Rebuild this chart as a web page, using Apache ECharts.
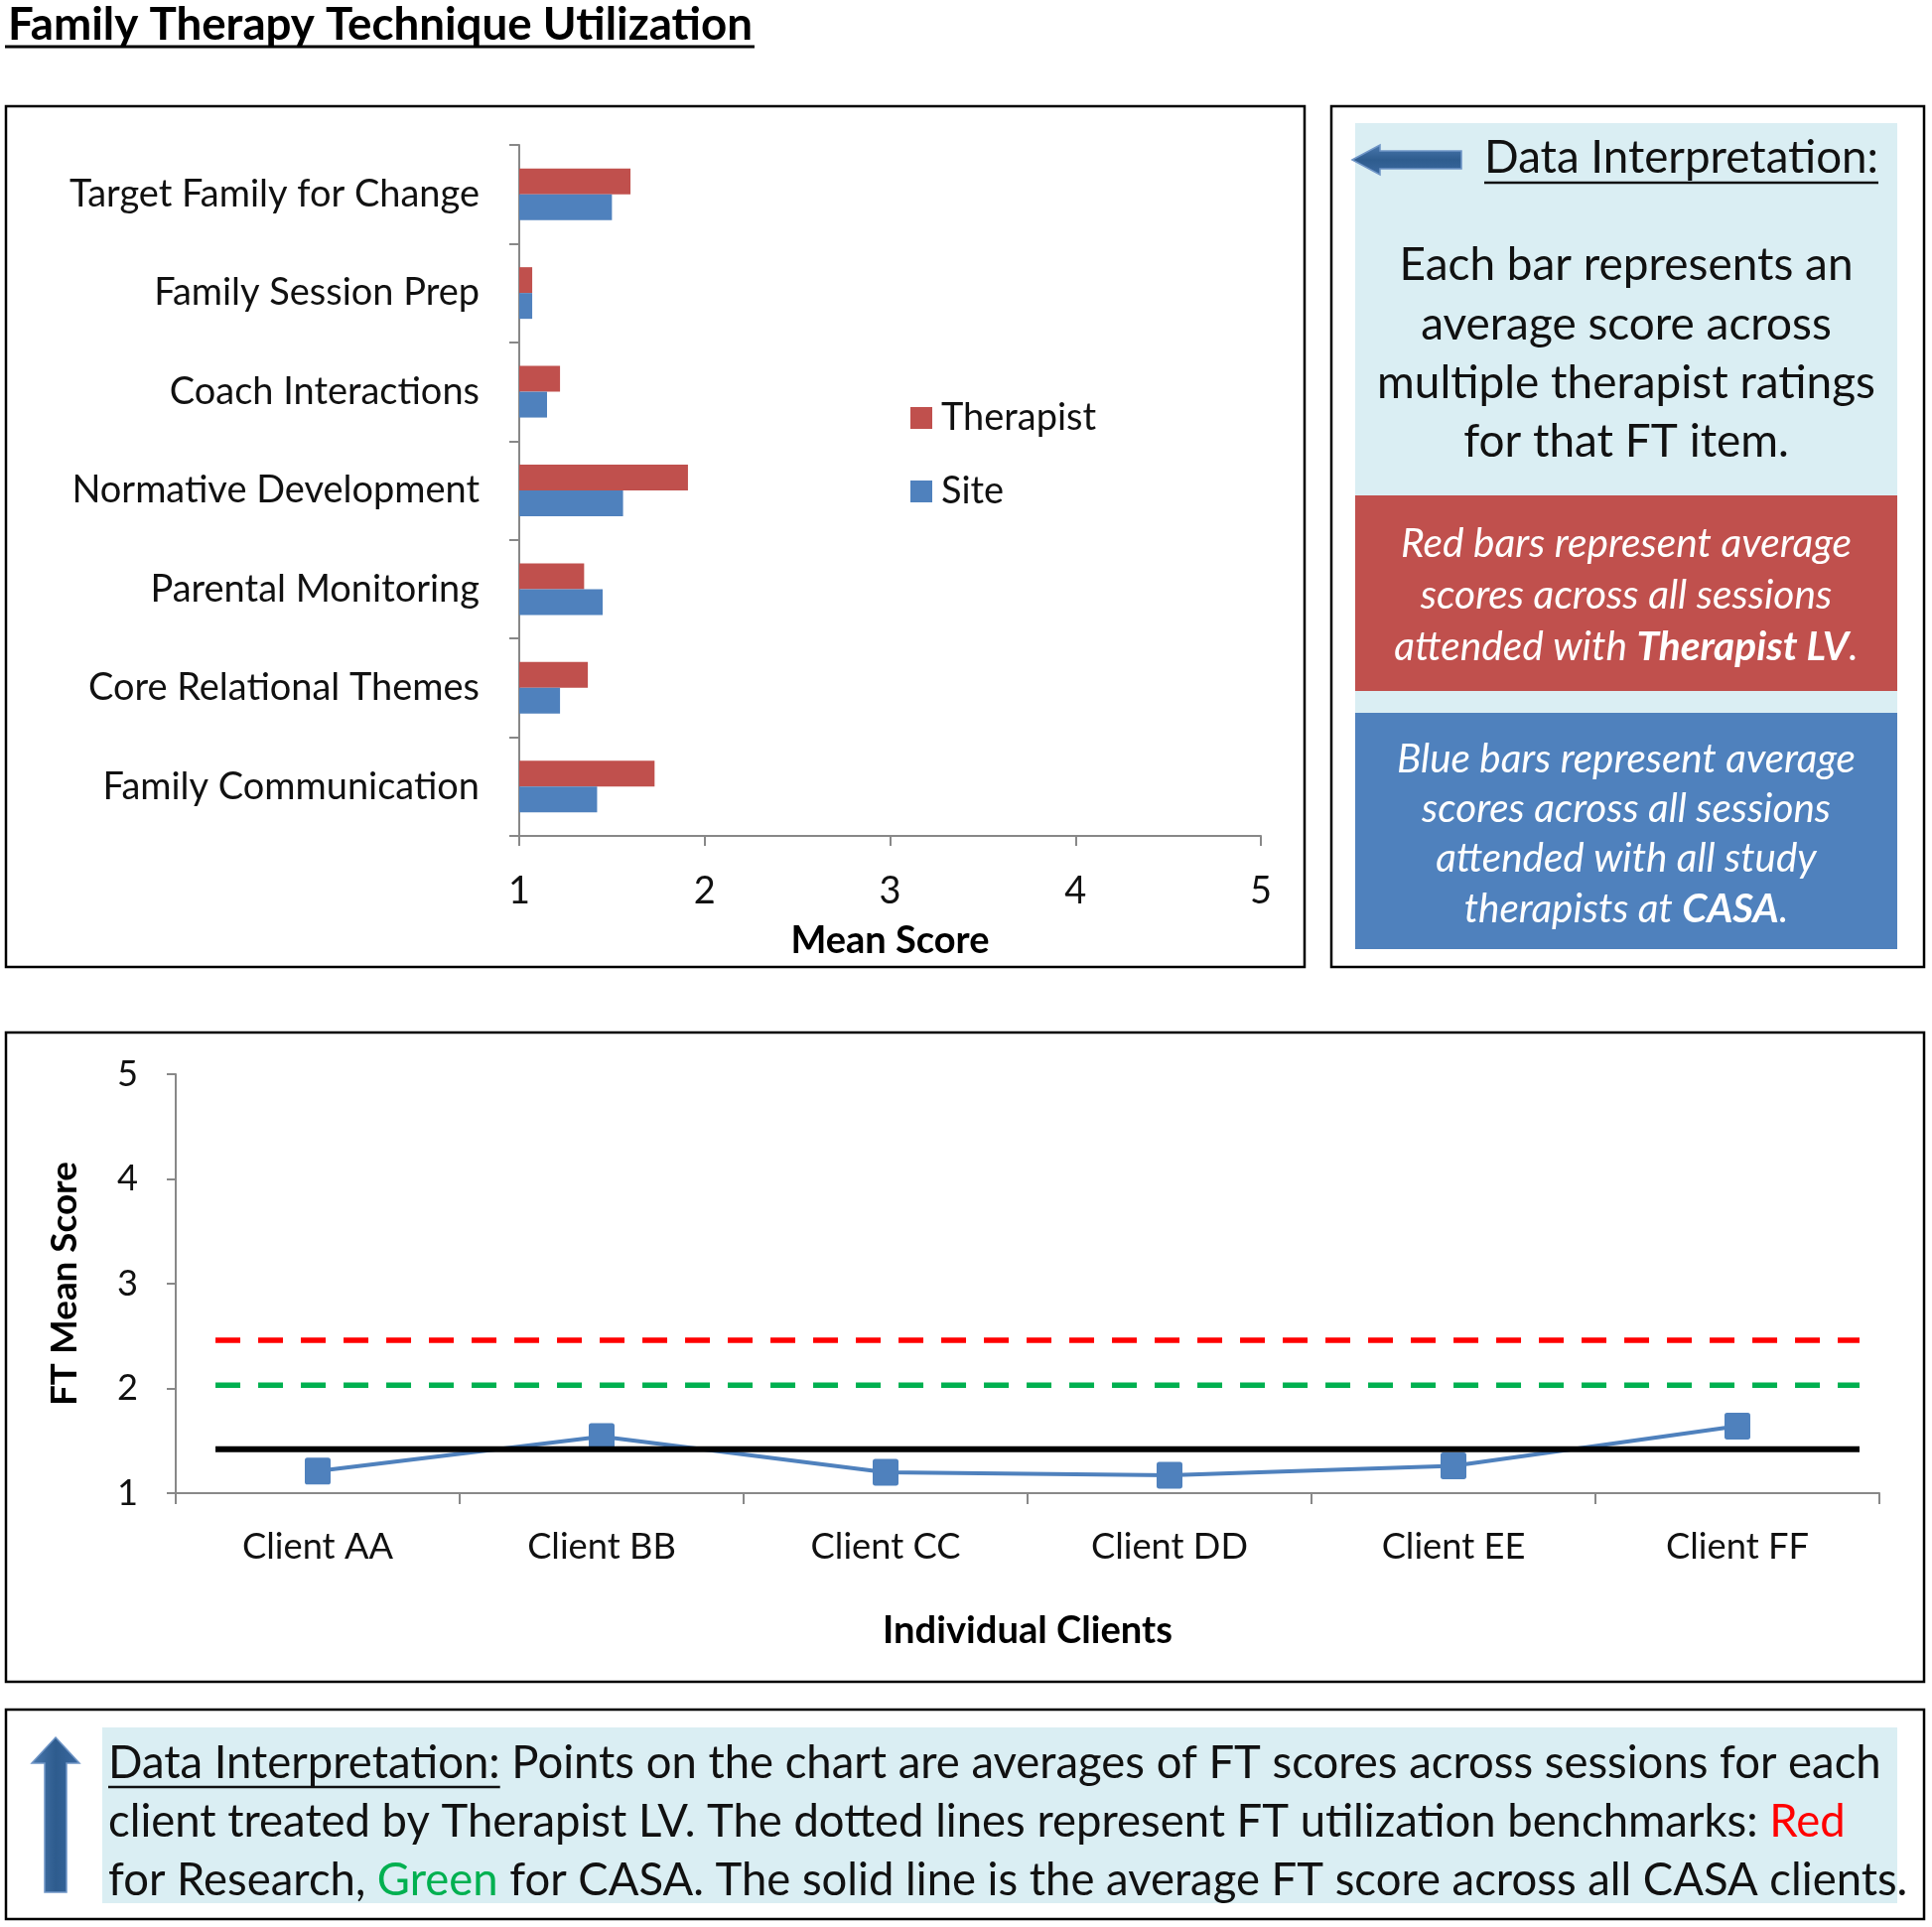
<!DOCTYPE html>
<html><head><meta charset="utf-8">
<script src="https://cdn.jsdelivr.net/npm/echarts@6/dist/echarts.min.js"></script>
<style>html,body{margin:0;padding:0;background:#fff}#main{width:1946px;height:1941px}</style>
</head><body><div id="main"></div>
<script>
// ---------- DATA ----------
const techniqueCategories = ['Target Family for Change','Family Session Prep','Coach Interactions','Normative Development','Parental Monitoring','Core Relational Themes','Family Communication'];
const therapistScores = [1.60, 1.07, 1.22, 1.91, 1.35, 1.37, 1.73];
const siteScores      = [1.50, 1.07, 1.15, 1.56, 1.45, 1.22, 1.42];
const seriesNames = ['Therapist', 'Site'];
const clientCategories = ['Client AA','Client BB','Client CC','Client DD','Client EE','Client FF'];
const clientScores = [1.21, 1.54, 1.20, 1.17, 1.26, 1.64];
const benchmarkNames = ['Research benchmark', 'CASA benchmark', 'CASA average'];
const benchmarkValues = [2.46, 2.03, 1.42];
const scoreTicks = [1, 2, 3, 4, 5];

// ---------- FONT HELPERS ----------
const FONT = 'Lato';
const ctx = document.createElement('canvas').getContext('2d');
function fnt(size, weight, style){ return (style||'normal') + ' ' + (weight||'normal') + ' ' + size + 'px ' + FONT; }
function tw(s, size, weight, style){ ctx.font = fnt(size, weight, style); return ctx.measureText(s).width; }
function fit(s, target, weight, style){ return +(target / tw(s, 100, weight, style) * 100).toFixed(2); }
function midOffset(size, weight, style){
  ctx.font = fnt(size, weight, style);
  ctx.textBaseline = 'alphabetic';
  const a = ctx.measureText('H').actualBoundingBoxAscent;
  ctx.textBaseline = 'middle';
  const m = ctx.measureText('H').actualBoundingBoxAscent;
  ctx.textBaseline = 'alphabetic';
  return a - m;
}
function T(text, x, baseline, size, o){
  o = o || {};
  const weight = o.weight || 'normal', style = o.style || 'normal';
  return { type:'text', x:x, y: baseline - midOffset(size, weight, style), z: 10,
    style:{ text:text, fontFamily:FONT, fontSize:size, fontWeight:weight, fontStyle:style,
      fill:o.fill||'#111', align:o.align||'left', textAlign:o.align||'left',
      verticalAlign:'middle', textVerticalAlign:'middle', rich:o.rich } };
}
function L(x1, y1, x2, y2, w, c){ return { type:'line', z:10, shape:{x1:x1,y1:y1,x2:x2,y2:y2}, style:{stroke:c||'#111', lineWidth:w} }; }
function R(x, y, w, h, fill, stroke, lw){ return { type:'rect', z: 1, shape:{x:x,y:y,width:w,height:h}, style:{fill:fill||'none', stroke:stroke||null, lineWidth:lw||0} }; }

// ---------- SIZES ----------
const titleSize = fit('Family Therapy Technique Utilization', 750, 'bold');
const catSize = fit('Target Family for Change', 413);
const meanNameSize = fit('Mean Score', 200, 'bold');
const clientSize = fit('Client AA', 152);
const clientsNameSize = fit('Individual Clients', 292, 'bold');
const ftNameSize = fit('FT Mean Score', 246, 'bold');
const headSize = fit('Data Interpretation:', 397);
const bodySize = fit('multiple therapist ratings', 502);
const redSize = fit('Red bars represent average', 454, 'normal', 'italic');
const blueSize = fit('Blue bars represent average', 462, 'normal', 'italic');
const noteSize = fit('Data Interpretation: Points on the chart are averages of FT scores across sessions for each', 1786);

// ---------- GRAPHICS ----------
const g = [];
// frames
g.push(R(6, 107, 1308, 867, 'none', '#000', 2.5));
g.push(R(1341, 107, 597, 867, 'none', '#000', 2.5));
g.push(R(6, 1040, 1932, 654, 'none', '#000', 2.5));
g.push(R(6, 1722, 1932, 211, 'none', '#000', 2.5));
// panels
g.push(R(1365, 124, 546, 832, '#DAEEF3'));
g.push(R(1365, 499, 546, 197, '#C0504D'));
g.push(R(1365, 718, 546, 238, '#4F81BD'));
g.push(R(103, 1740, 1808, 177, '#DAEEF3'));
// arrows
const arrowFill = {type:'linear', x:0, y:0, x2:0, y2:1, colorStops:[{offset:0,color:'#4A78AE'},{offset:0.5,color:'#2E5C8E'},{offset:1,color:'#3B69A0'}]};
g.push({ type:'polygon', z:5, shape:{points:[[1362,161],[1390,146],[1390,152],[1472,152],[1472,170],[1390,170],[1390,176]]}, style:{fill:arrowFill, stroke:'#6F95C6', lineWidth:1.5} });
const arrowFill2 = {type:'linear', x:0, y:0, x2:1, y2:0, colorStops:[{offset:0,color:'#4A78AE'},{offset:0.5,color:'#2E5C8E'},{offset:1,color:'#3B69A0'}]};
g.push({ type:'polygon', z:5, shape:{points:[[56,1750],[80,1776],[67,1776],[67,1906],[45,1906],[45,1776],[32,1776]]}, style:{fill:arrowFill2, stroke:'#6F95C6', lineWidth:1.5} });

// title
g.push(T('Family Therapy Technique Utilization', 8, 40, titleSize, {weight:'bold', fill:'#000'}));
g.push(L(5, 47, 10 + tw('Family Therapy Technique Utilization', titleSize, 'bold'), 47, 3, '#000'));

// right panel
g.push(T('Data Interpretation:', 1495, 174, headSize));
g.push(L(1495, 184, 1495 + tw('Data Interpretation:', headSize), 184, 2.5));
const bodyLines = ['Each bar represents an', 'average score across', 'multiple therapist ratings', 'for that FT item.'];
[282, 342, 401, 460].forEach((b, i) => g.push(T(bodyLines[i], 1638, b, bodySize, {align:'center'})));
const redLines = ['Red bars represent average', 'scores across all sessions', 'attended with {b|Therapist LV}.'];
[561, 613, 665].forEach((b, i) => g.push(T(redLines[i], 1638, b, redSize, {align:'center', style:'italic', fill:'#fff',
  rich:{b:{fontFamily:FONT, fontSize:redSize, fontWeight:'bold', fontStyle:'italic', fill:'#fff'}}})));
const blueLines = ['Blue bars represent average', 'scores across all sessions', 'attended with all study', 'therapists at {b|CASA}.'];
[778, 828, 878, 929].forEach((b, i) => g.push(T(blueLines[i], 1638, b, blueSize, {align:'center', style:'italic', fill:'#fff',
  rich:{b:{fontFamily:FONT, fontSize:blueSize, fontWeight:'bold', fontStyle:'italic', fill:'#fff'}}})));

// bottom note
const noteRich = {
  r:{fontFamily:FONT, fontSize:noteSize, fill:'#FF0000'},
  gr:{fontFamily:FONT, fontSize:noteSize, fill:'#00B050'}
};
g.push(T('Data Interpretation: Points on the chart are averages of FT scores across sessions for each', 109, 1791, noteSize));
g.push(L(109, 1800, 109 + tw('Data Interpretation:', noteSize), 1800, 2.5));
g.push(T('client treated by Therapist LV. The dotted lines represent FT utilization benchmarks: {r|Red}', 109, 1850, noteSize, {rich:noteRich}));
g.push(T('for Research, {gr|Green} for CASA. The solid line is the average FT score across all CASA clients.', 109, 1909, noteSize, {rich:noteRich}));

// ---------- CHART OPTION ----------
const AX = '#888888';
const LINE_X0 = 0.14, LINE_X1 = 5.93; // benchmark line extent in client-axis units
const benchColors = ['#FF0000', '#00B050', '#000000'];
const benchSeries = benchmarkNames.map((n, i) => ({
  name:n, type:'line', xAxisIndex:2, yAxisIndex:1, symbol:'none', silent:true, z: i === 2 ? 6 : 3,
  data:[[LINE_X0, benchmarkValues[i]], [LINE_X1, benchmarkValues[i]]],
  lineStyle:{color:benchColors[i], width: i === 2 ? 6 : 5.5, type: i === 2 ? 'solid' : [25, 18], cap:'butt'}
}));

const option = {
  animation:false,
  textStyle:{fontFamily:FONT},
  graphic:{elements:g},
  legend:{
    data:seriesNames, orient:'vertical', left:917, top:401, padding:0,
    icon:'rect', itemWidth:22, itemHeight:22, itemGap:34,
    textStyle:{fontFamily:FONT, fontSize:catSize, color:'#111', lineHeight:40, padding:[0,0,0,4]}
  },
  grid:[
    {left:523, top:146, width:747, height:696, outerBoundsMode:'none', containLabel:false},
    {left:177, top:1082, width:1716, height:422, outerBoundsMode:'none', containLabel:false}
  ],
  xAxis:[
    {type:'value', gridIndex:0, min:scoreTicks[0], max:scoreTicks[scoreTicks.length-1], interval:1,
      axisLine:{show:true, lineStyle:{color:AX, width:2}}, axisTick:{show:true, length:10, lineStyle:{color:AX, width:2}},
      splitLine:{show:false}, axisLabel:{fontSize:catSize, color:'#111', margin:37, fontFamily:FONT},
      name:'Mean Score', nameLocation:'middle', nameGap:87,
      nameTextStyle:{fontSize:meanNameSize, fontWeight:'bold', color:'#000', fontFamily:FONT}},
    {type:'category', gridIndex:1, data:clientCategories,
      axisLine:{show:true, lineStyle:{color:AX, width:2}}, axisTick:{show:true, length:11, lineStyle:{color:AX, width:2}},
      axisLabel:{fontSize:clientSize, color:'#111', margin:36, fontFamily:FONT},
      name:'Individual Clients', nameLocation:'middle', nameGap:120,
      nameTextStyle:{fontSize:clientsNameSize, fontWeight:'bold', color:'#000', fontFamily:FONT}},
    {type:'value', gridIndex:1, min:0, max:clientCategories.length, show:false}
  ],
  yAxis:[
    {type:'category', gridIndex:0, data:techniqueCategories, inverse:true,
      axisLine:{show:true, lineStyle:{color:AX, width:2}}, axisTick:{show:true, length:10, lineStyle:{color:AX, width:2}},
      axisLabel:{fontSize:catSize, color:'#111', margin:40, fontFamily:FONT}},
    {type:'value', gridIndex:1, min:scoreTicks[0], max:scoreTicks[scoreTicks.length-1], interval:1,
      axisLine:{show:true, lineStyle:{color:AX, width:2}}, axisTick:{show:true, length:9, lineStyle:{color:AX, width:2}},
      splitLine:{show:false}, axisLabel:{fontSize:clientSize, color:'#111', margin:38, fontFamily:FONT},
      name:'FT Mean Score', nameLocation:'middle', nameGap:93,
      nameTextStyle:{fontSize:ftNameSize, fontWeight:'bold', color:'#000', fontFamily:FONT}}
  ],
  series:[
    {name:seriesNames[0], type:'bar', xAxisIndex:0, yAxisIndex:0, data:therapistScores, barWidth:26, barGap:'0%',
      itemStyle:{color:'#C0504D'}},
    {name:seriesNames[1], type:'bar', xAxisIndex:0, yAxisIndex:0, data:siteScores, barWidth:26, barGap:'0%',
      itemStyle:{color:'#4F81BD'}},
    ...benchSeries,
    {name:'Clients', type:'line', xAxisIndex:1, yAxisIndex:1, data:clientScores, z:4,
      symbol:'path://M1,0H9A1,1 0 0 1 10,1V9A1,1 0 0 1 9,10H1A1,1 0 0 1 0,9V1A1,1 0 0 1 1,0Z', symbolSize:[26,27],
      itemStyle:{color:'#4F81BD'}, lineStyle:{color:'#4F81BD', width:4}}
  ]
};
const chart = echarts.init(document.getElementById('main'), null, {renderer:'canvas'});
chart.setOption(option);
</script>
</body></html>
